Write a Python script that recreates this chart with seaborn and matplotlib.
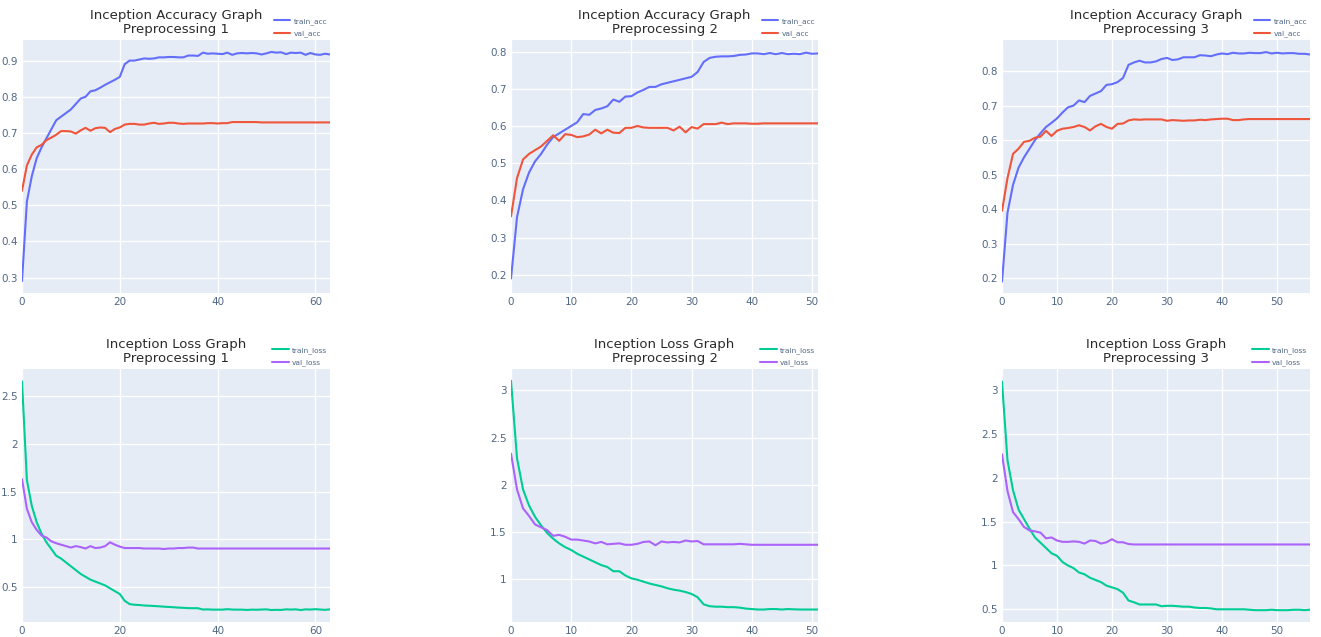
import numpy as np
import matplotlib
matplotlib.use("Agg")
import matplotlib.pyplot as plt
import seaborn as sns
from matplotlib.ticker import FuncFormatter, MultipleLocator

# ---------------- data ----------------
p1_train_acc = [0.29,0.51,0.58,0.63,0.66,0.685,0.71,0.735,0.745,0.755,
                0.765,0.78,0.795,0.80,0.815,0.818,0.825,0.833,0.84,0.847,
                0.855,0.89,0.90,0.90,0.903,0.906,0.905,0.906,0.909,0.909,
                0.91,0.91,0.909,0.909,0.914,0.914,0.913,0.922,0.919,0.92,
                0.919,0.918,0.922,0.916,0.92,0.921,0.92,0.921,0.92,0.917,
                0.92,0.924,0.922,0.923,0.918,0.922,0.921,0.922,0.916,0.921,
                0.917,0.916,0.919,0.917]
p1_val_acc = [0.54,0.61,0.64,0.66,0.667,0.68,0.687,0.695,0.705,0.705,
              0.704,0.698,0.707,0.714,0.706,0.713,0.715,0.714,0.702,0.711,
              0.715,0.723,0.725,0.725,0.723,0.723,0.726,0.728,0.725,0.726,
              0.728,0.728,0.726,0.725,0.726,0.726,0.726,0.726,0.727,0.727,
              0.726,0.727,0.727,0.730,0.730,0.730,0.730,0.730,0.730,0.729,
              0.729,0.729,0.729,0.729,0.729,0.729,0.729,0.729,0.729,0.729,
              0.729,0.729,0.729,0.729]

p2_train_acc = [0.19,0.355,0.43,0.475,0.505,0.525,0.55,0.57,0.58,0.59,
                0.60,0.61,0.632,0.63,0.643,0.647,0.653,0.671,0.665,0.679,
                0.68,0.69,0.697,0.705,0.705,0.712,0.716,0.72,0.724,0.728,
                0.732,0.745,0.772,0.783,0.786,0.787,0.787,0.788,0.791,0.792,
                0.795,0.795,0.793,0.796,0.793,0.796,0.793,0.794,0.793,0.797,
                0.794,0.795]
p2_val_acc = [0.357,0.46,0.51,0.525,0.535,0.545,0.56,0.575,0.56,0.578,
              0.576,0.57,0.572,0.577,0.59,0.58,0.59,0.582,0.581,0.595,
              0.595,0.60,0.596,0.595,0.595,0.595,0.595,0.588,0.598,0.583,
              0.597,0.593,0.605,0.605,0.605,0.609,0.605,0.607,0.607,0.607,
              0.606,0.606,0.607,0.607,0.607,0.607,0.607,0.607,0.607,0.607,
              0.607,0.607]

p3_train_acc = [0.19,0.39,0.47,0.52,0.55,0.575,0.60,0.62,0.638,0.65,
                0.663,0.68,0.695,0.70,0.715,0.71,0.728,0.735,0.742,0.76,
                0.762,0.768,0.78,0.818,0.825,0.83,0.825,0.825,0.828,0.835,
                0.838,0.832,0.834,0.84,0.84,0.84,0.846,0.845,0.843,0.848,
                0.851,0.849,0.853,0.851,0.851,0.853,0.852,0.852,0.855,0.851,
                0.853,0.851,0.852,0.852,0.85,0.85,0.848]
p3_val_acc = [0.395,0.49,0.56,0.575,0.595,0.598,0.607,0.61,0.627,0.612,
              0.627,0.633,0.635,0.638,0.643,0.638,0.628,0.64,0.647,0.638,
              0.633,0.647,0.648,0.657,0.66,0.659,0.66,0.66,0.66,0.66,
              0.656,0.658,0.657,0.656,0.657,0.657,0.659,0.658,0.66,0.661,
              0.662,0.662,0.658,0.658,0.66,0.661,0.661,0.661,0.661,0.661,
              0.661,0.661,0.661,0.661,0.661,0.661,0.661]

p1_train_loss = [2.65,1.62,1.35,1.18,1.06,0.97,0.9,0.83,0.8,0.76,
                 0.72,0.68,0.64,0.61,0.58,0.56,0.54,0.52,0.49,0.46,
                 0.43,0.36,0.325,0.318,0.315,0.31,0.308,0.305,0.302,0.298,
                 0.295,0.292,0.288,0.286,0.283,0.282,0.282,0.268,0.27,0.267,
                 0.267,0.267,0.272,0.268,0.267,0.267,0.264,0.267,0.266,0.268,
                 0.27,0.263,0.265,0.264,0.27,0.268,0.27,0.263,0.27,0.268,
                 0.272,0.268,0.265,0.27]
p1_val_loss = [1.63,1.32,1.18,1.1,1.04,1.02,0.98,0.96,0.945,0.93,
               0.915,0.93,0.92,0.905,0.93,0.91,0.915,0.93,0.97,0.945,
               0.925,0.91,0.91,0.91,0.91,0.905,0.905,0.905,0.905,0.90,
               0.905,0.905,0.91,0.91,0.915,0.915,0.905,0.905,0.905,0.905,
               0.905,0.905,0.905,0.905,0.905,0.905,0.905,0.905,0.905,0.905,
               0.905,0.905,0.905,0.905,0.905,0.905,0.905,0.905,0.905,0.905,
               0.905,0.905,0.905,0.905]

p2_train_loss = [3.1,2.28,1.95,1.78,1.66,1.57,1.49,1.43,1.38,1.34,
                 1.31,1.27,1.24,1.21,1.18,1.15,1.13,1.085,1.085,1.04,
                 1.01,0.995,0.975,0.955,0.94,0.925,0.905,0.89,0.88,0.865,
                 0.845,0.81,0.735,0.715,0.71,0.71,0.705,0.705,0.70,0.69,
                 0.685,0.68,0.68,0.685,0.685,0.68,0.685,0.682,0.68,0.68,
                 0.68,0.68]
p2_val_loss = [2.33,1.95,1.75,1.67,1.58,1.55,1.52,1.46,1.47,1.45,
               1.42,1.42,1.41,1.40,1.38,1.395,1.37,1.375,1.38,1.365,
               1.365,1.375,1.395,1.40,1.36,1.40,1.39,1.395,1.39,1.41,
               1.40,1.405,1.37,1.37,1.37,1.37,1.37,1.37,1.375,1.37,
               1.365,1.365,1.365,1.365,1.365,1.365,1.365,1.365,1.365,1.365,
               1.365,1.365]

p3_train_loss = [3.1,2.2,1.86,1.64,1.53,1.42,1.32,1.26,1.2,1.14,
                 1.11,1.04,1.0,0.97,0.92,0.9,0.86,0.835,0.81,0.77,
                 0.75,0.73,0.69,0.60,0.58,0.555,0.555,0.555,0.555,0.535,
                 0.54,0.54,0.535,0.53,0.53,0.52,0.515,0.515,0.51,0.50,
                 0.50,0.50,0.50,0.50,0.50,0.495,0.49,0.49,0.49,0.495,
                 0.49,0.49,0.49,0.495,0.495,0.49,0.495]
p3_val_loss = [2.27,1.85,1.61,1.53,1.44,1.40,1.39,1.375,1.31,1.32,
               1.285,1.27,1.27,1.275,1.27,1.25,1.285,1.28,1.25,1.265,
               1.30,1.265,1.265,1.245,1.24,1.24,1.24,1.24,1.24,1.24,
               1.24,1.24,1.24,1.24,1.24,1.24,1.24,1.24,1.24,1.24,
               1.24,1.24,1.24,1.24,1.24,1.24,1.24,1.24,1.24,1.24,
               1.24,1.24,1.24,1.24,1.24,1.24,1.24]

acc_titles = ["Inception Accuracy Graph\nPreprocessing 1",
              "Inception Accuracy Graph\nPreprocessing 2",
              "Inception Accuracy Graph\nPreprocessing 3"]
loss_titles = ["Inception Loss Graph\nPreprocessing 1",
               "Inception Loss Graph\nPreprocessing 2",
               "Inception Loss Graph\nPreprocessing 3"]

# ---------------- style ----------------
sns.set_style("darkgrid", {"axes.facecolor": "#E5ECF6", "grid.color": "white",
                           "axes.edgecolor": "#E5ECF6"})
plt.rcParams['font.family'] = ['DejaVu Sans']

W, H = 1321, 637
fig = plt.figure(figsize=(W / 100, H / 100), dpi=100)

cols_px = [(22, 330), (511, 818), (1002, 1310)]
rows_px = [(40, 292.7), (369, 622)]

def make_ax(c, r):
    x0, x1 = cols_px[c]
    y0, y1 = rows_px[r]
    return fig.add_axes([x0 / W, 1 - y1 / H, (x1 - x0) / W, (y1 - y0) / H])

fmt = FuncFormatter(lambda v, p: f"{v:g}")

acc_sets = [(p1_train_acc, p1_val_acc), (p2_train_acc, p2_val_acc), (p3_train_acc, p3_val_acc)]
loss_sets = [(p1_train_loss, p1_val_loss), (p2_train_loss, p2_val_loss), (p3_train_loss, p3_val_loss)]
acc_ylims = [(0.258, 0.957), (0.152, 0.831), (0.158, 0.890)]
loss_ylims = [(0.138, 2.779), (0.548, 3.225), (0.355, 3.243)]
x_major = [20, 10, 10]

def style_ax(ax, n, xm, ylim, ystep, title):
    ax.set_xlim(0, n - 1)
    ax.set_ylim(*ylim)
    ax.xaxis.set_major_locator(MultipleLocator(xm))
    ax.yaxis.set_major_locator(MultipleLocator(ystep))
    ax.xaxis.set_major_formatter(fmt)
    ax.yaxis.set_major_formatter(fmt)
    ax.tick_params(axis="both", labelsize=7.5, colors="#506784", length=0, pad=3)
    ax.grid(True, color="white", linewidth=1)
    for s in ax.spines.values():
        s.set_visible(False)
    ax.set_xlabel("")
    ax.set_ylabel("")
    ax.set_title(title, fontsize=9.5, color="#2a2a2a", pad=5, linespacing=1.15)
    leg = ax.legend(loc="upper right", bbox_to_anchor=(1.0, 1.10), frameon=False,
                    fontsize=5.3, handlelength=2.3, handletextpad=0.4,
                    labelspacing=0.75, borderaxespad=0)
    for t in leg.get_texts():
        t.set_color("#506784")

for i in range(3):
    tr, va = acc_sets[i]
    ax = make_ax(i, 0)
    x = np.arange(len(tr))
    sns.lineplot(x=x, y=tr, ax=ax, color="#636EFA", linewidth=1.5, label="train_acc")
    sns.lineplot(x=x, y=va, ax=ax, color="#EF553B", linewidth=1.5, label="val_acc")
    style_ax(ax, len(tr), x_major[i], acc_ylims[i], 0.1, acc_titles[i])

    tr, va = loss_sets[i]
    ax = make_ax(i, 1)
    x = np.arange(len(tr))
    sns.lineplot(x=x, y=tr, ax=ax, color="#00CC96", linewidth=1.5, label="train_loss")
    sns.lineplot(x=x, y=va, ax=ax, color="#AB63FA", linewidth=1.5, label="val_loss")
    style_ax(ax, len(tr), x_major[i], loss_ylims[i], 0.5, loss_titles[i])

fig.savefig("out.png", dpi=100, facecolor="white")
